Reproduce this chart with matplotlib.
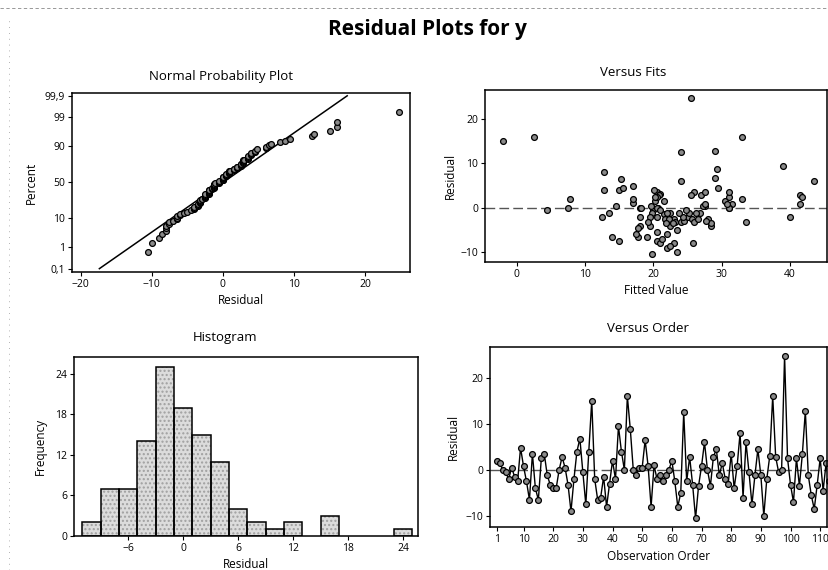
import matplotlib
matplotlib.use('Agg')
import matplotlib.pyplot as plt
import numpy as np
from statistics import NormalDist

plt.rcParams['font.family'] = ['Open Sans', 'DejaVu Sans']

# residuals in observation order (read from the Versus Order panel,
# checked against the histogram counts)
residuals = [2, 1.5, 0, -0.5, -2, 0.5, -1.5, -2.5, 4.8, 0.8,
             -2.5, -6.5, 3.5, -4, -6.5, 2.5, 3.5, -1.2, -3.2, -4,
             -4, 0, 2.8, 0.5, -3.2, -9, -2, 4, 6.8, -0.5,
             -7.5, 4, 15, -2, -6.5, -6, -1.5, -8, -3, 2,
             -2, 9.5, 4, 0, 16, 8.8, 0, -1.1, 0.5, 0.5,
             6.5, 0.8, -8, 1, -2, -1.2, -2.5, -1.2, 0, 2,
             -2.5, -8, -5, 12.5, -2.5, 2.8, -3.2, -10.5, -3.5, 0.8,
             6, 0, -3.5, 2.8, 4.5, -1.2, 1.5, -2, -3, 3.5,
             -4, 0.8, 8, -6, 6, -0.5, -7.5, -1.2, 4.5, -1.2,
             -10, -2, 3, 16, 2.8, -0.5, 0, 24.8, 2.5, -3.2,
             -7, 2.5, -3.5, 3.5, 12.8, -1.2, -5.5, -8.5, -3.2, 2.5,
             -4.5, 1.5, -2.5]

# fitted values, same order
fits = [7.8, 30.5, 7.5, 4.5, 12.5, 14.5, 21.5, 28, 17, 31.5,
        23, 14, 26, 19.5, 19, 31, 20.5, 13.5, 33.5, 28.5,
        22.5, 31, 25.5, 27.5, 24, 22, 40, 12.8, 29, 20,
        20.5, 15, -2, 18, 17.8, 17.5, 26.5, 21, 24.5, 33,
        25, 39, 20.1, 18, 33, 29.3, 20.7, 22.5, 19.7, 27.3,
        15.3, 41.5, 23, 17, 24.3, 19.8, 21.7, 26.8, 20.5, 17,
        25.6, 25.8, 23.5, 24, 22.3, 27, 23.2, 19.8, 28.5, 27.6,
        43.5, 31, 22.8, 41.5, 15.5, 26.2, 20.2, 20.5, 27.7, 31,
        18, 30.8, 12.8, 22, 24, 21, 15, 25.2, 29.5, 22,
        23.5, 19.5, 21, 2.5, 20.8, 24.8, 18.2, 25.5, 20.5, 26,
        21.2, 41.8, 21.8, 27.5, 29, 23.8, 20.5, 22.5, 19.2, 20.3,
        17.8, 21.5, 26.5]

# histogram bins (centres) and frequencies
hist_centers = [-10, -8, -6, -4, -2, 0, 2, 4, 6, 8, 10, 12, 16, 24]
hist_counts = [2, 7, 7, 14, 25, 19, 15, 11, 4, 2, 1, 2, 3, 1]

pct_ticks = [0.1, 1, 10, 50, 90, 99, 99.9]
pct_labels = ['0,1', '1', '10', '50', '90', '99', '99,9']

W, H = 829, 570
fig = plt.figure(figsize=(W / 100, H / 100), dpi=100)

def box(l, t, r, b):
    return [l / W, 1 - b / H, (r - l) / W, (b - t) / H]

mk = dict(marker='o', markersize=4.2, markerfacecolor='#8a8a8a',
          markeredgecolor='black', markeredgewidth=0.9)
tick_fs = 7.5
lab_fs = 8.5
tit_fs = 9.5

def style(ax, ylx):
    for s in ax.spines.values():
        s.set_linewidth(1.1)
        s.set_color('black')
    ax.tick_params(labelsize=tick_fs, length=3, width=0.8, direction='out', pad=2)
    ax.xaxis.set_label_coords(0.5, -0.125)
    ax.yaxis.set_label_coords(ylx, 0.5)

nd = NormalDist()
res = np.array(residuals)
n = len(res)

# Normal probability plot
ax1 = fig.add_axes(box(72, 93, 410, 272))
srt = np.sort(res)
p = (np.arange(1, n + 1) - 0.3) / (n + 0.4)
z = np.array([nd.inv_cdf(v) for v in p])
mu, sd = res.mean(), res.std(ddof=1)
zl = np.array([nd.inv_cdf(0.001), nd.inv_cdf(0.999)])
ax1.plot(mu + zl * sd, zl, color='black', lw=1.1)
ax1.plot(srt, z, linestyle='none', **mk)
ax1.set_yticks([nd.inv_cdf(v / 100) for v in pct_ticks])
ax1.set_yticklabels(pct_labels)
ax1.set_ylim(-3.21, 3.19)
ax1.set_xlim(-21.2, 26.3)
ax1.set_xticks([-20, -10, 0, 10, 20])
ax1.set_xlabel('Residual', fontsize=lab_fs)
ax1.set_ylabel('Percent', fontsize=lab_fs)
ax1.text(0.44, 1.09, 'Normal Probability Plot', transform=ax1.transAxes,
         ha='center', va='center', fontsize=tit_fs)
style(ax1, -0.10)

# Versus Fits
ax2 = fig.add_axes(box(485, 90, 827, 262))
ax2.axhline(0, color='#555555', lw=1.0, ls=(0, (7, 3)))
ax2.plot(fits, residuals, linestyle='none', **mk)
ax2.set_xlim(-4.64, 45.4)
ax2.set_ylim(-12.2, 26.5)
ax2.set_xticks([0, 10, 20, 30, 40])
ax2.set_yticks([-10, 0, 10, 20])
ax2.set_xlabel('Fitted Value', fontsize=lab_fs)
ax2.set_ylabel('Residual', fontsize=lab_fs)
ax2.text(0.434, 1.10, 'Versus Fits', transform=ax2.transAxes,
         ha='center', va='center', fontsize=tit_fs)
style(ax2, -0.082)

# Histogram
ax3 = fig.add_axes(box(74, 357, 418, 536))
ax3.bar(hist_centers, hist_counts, width=2, color='#dcdcdc',
        edgecolor='#a0a0a0', linewidth=0, hatch='....')
ax3.bar(hist_centers, hist_counts, width=2, fill=False,
        edgecolor='black', linewidth=1.1)
ax3.set_xlim(-11.9, 25.6)
ax3.set_ylim(0, 26.5)
ax3.set_xticks([-6, 0, 6, 12, 18, 24])
ax3.set_yticks([0, 6, 12, 18, 24])
ax3.set_xlabel('Residual', fontsize=lab_fs)
ax3.set_ylabel('Frequency', fontsize=lab_fs)
ax3.text(0.44, 1.11, 'Histogram', transform=ax3.transAxes,
         ha='center', va='center', fontsize=tit_fs)
style(ax3, -0.078)

# Versus Order
ax4 = fig.add_axes(box(490, 347, 827, 527))
obs = np.arange(1, n + 1)
ax4.axhline(0, color='#555555', lw=1.0, ls=(0, (7, 3)))
ax4.plot(obs, residuals, color='black', lw=1.0, **mk)
ax4.set_xlim(-1.3, 112.3)
ax4.set_ylim(-12.4, 26.7)
ax4.set_xticks([1, 10, 20, 30, 40, 50, 60, 70, 80, 90, 100, 110])
ax4.set_yticks([-10, 0, 10, 20])
ax4.set_xlabel('Observation Order', fontsize=lab_fs)
ax4.set_ylabel('Residual', fontsize=lab_fs)
ax4.text(0.47, 1.10, 'Versus Order', transform=ax4.transAxes,
         ha='center', va='center', fontsize=tit_fs)
style(ax4, -0.089)

fig.text(427 / W, 1 - 30 / H, 'Residual Plots for y', ha='center', va='center',
         fontsize=15, fontweight='bold')

# scan edges
fig.add_artist(plt.Line2D([0, 1], [1 - 8 / H, 1 - 8 / H], color='#888888',
                          lw=0.6, ls=(0, (4, 3))))
fig.add_artist(plt.Line2D([9 / W, 9 / W], [0, 1 - 20 / H], color='#999999',
                          lw=0.6, ls=(0, (1, 6))))

fig.savefig('out.png', dpi=100)
